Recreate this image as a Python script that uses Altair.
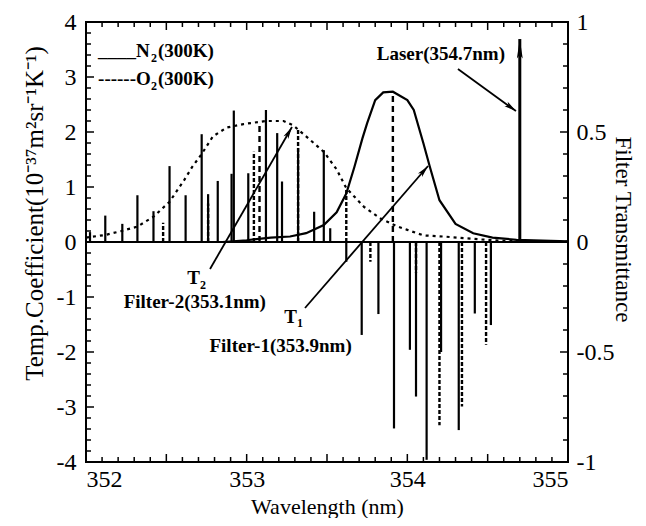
import altair as alt
import pandas as pd

# ---------------- data ----------------
# N2 (solid) temperature-coefficient lines
n2_lam = [352.025, 352.12, 352.226, 352.32, 352.42, 352.52, 352.62, 352.72, 352.76,
          352.82, 352.906, 352.92, 353.01, 353.12, 353.19, 353.22, 353.32, 353.42,
          353.48, 353.52, 353.62, 353.716, 353.82, 353.917, 354.016, 354.054,
          354.12, 354.21, 354.32, 354.42, 354.52]
n2_val = [0.18, 0.48, 0.33, 0.85, 0.56, 1.38, 0.85, 1.96, 0.87,
          1.11, 1.24, 2.39, 1.25, 2.40, 1.98, 1.10, 1.71, 0.55,
          1.67, 0.25, -0.36, -1.69, -1.31, -3.39, -1.96, -2.81,
          -3.96, -2.00, -3.42, -1.30, -1.51]

# O2 (dashed) temperature-coefficient lines
o2_lam = [352.48, 352.76, 353.045, 353.32, 353.62, 353.77, 354.054, 354.20, 354.34, 354.49]
o2_val = [0.35, 0.70, 1.64, 2.07, 0.95, -0.36, -0.56, -3.33, -2.99, -1.87]

# Filter-1 transmittance (solid curve, right axis)
f1_lam = [352.85, 353.0, 353.15, 353.27, 353.37, 353.48, 353.56, 353.62, 353.67, 353.72,
          353.75, 353.8, 353.85, 353.91, 354.0, 354.04, 354.1, 354.14, 354.2, 354.3,
          354.41, 354.53, 354.68, 355.0]
f1_t = [0.0, 0.008, 0.02, 0.025, 0.04, 0.077, 0.135, 0.22, 0.34, 0.47,
        0.54, 0.645, 0.68, 0.683, 0.645, 0.6, 0.449, 0.342, 0.19, 0.082,
        0.04, 0.02, 0.01, 0.003]

# Filter-2 transmittance (dotted curve, right axis)
f2_lam = [352.0, 352.12, 352.22, 352.32, 352.42, 352.52, 352.61, 352.66, 352.72, 352.79,
          352.875, 352.98, 353.12, 353.23, 353.29, 353.37, 353.48, 353.56, 353.62, 353.73,
          353.83, 353.94, 354.0, 354.1, 354.24, 354.45, 354.6, 355.0]
f2_t = [0.02, 0.032, 0.05, 0.07, 0.115, 0.183, 0.28, 0.34, 0.40, 0.48,
        0.52, 0.536, 0.55, 0.55, 0.53, 0.48, 0.41, 0.33, 0.245, 0.16,
        0.108, 0.07, 0.055, 0.03, 0.024, 0.012, 0.005, 0.002]

# filter centre markers (dashed verticals), right-axis heights
center_lam = [353.91, 353.08]
center_t = [0.683, 0.54]

# laser line
laser_lam = [354.7]
laser_top = [3.69]

# annotation arrows (start -> tip, data units of the left axis)
arrow_x1 = [352.772, 353.363, 354.315]
arrow_y1 = [-0.49, -1.20, 3.145]
arrow_x2 = [353.282, 354.129, 354.676]
arrow_y2 = [2.09, 1.382, 2.38]
arrow_angle = [30, 41, 126]

# annotation texts
rtext = ["Laser(354.7nm)", "Filter-2(353.1nm)", "Filter-1(353.9nm)"]
rtext_x = [354.608, 353.12, 353.654]
rtext_y = [3.418, -1.085, -1.89]

ctext = ["T", "T"]
ctext_x = [352.669, 353.273]
ctext_y = [-0.655, -1.358]

sub = ["2", "1", "2", "2"]
sub_x = [352.71, 353.313, 352.405, 352.405]
sub_y = [-0.855, -1.545, 3.273, 2.76]

legend_text = ["____N", "(300K)", "------O", "(300K)"]
legend_x = [352.075, 352.448, 352.075, 352.448]
legend_y = [3.364, 3.364, 2.85, 2.85]

left_ticks = [round(-4 + 0.2 * i, 1) for i in range(41)]
right_ticks = [round(-1 + 0.1 * i, 1) for i in range(21)]
x_ticks = [round(352 + 0.1 * i, 1) for i in range(31)]

# ---------------- chart ----------------
W, H = 482, 440
FONT = "Liberation Serif, Times New Roman, serif"

xs = alt.Scale(domain=[352, 355], nice=False, zero=False)
yl = alt.Scale(domain=[-4, 4], nice=False, zero=False)
yr = alt.Scale(domain=[-1, 1], nice=False, zero=False)

n2 = pd.DataFrame({"lam": n2_lam, "v": n2_val, "z": 0.0})
o2 = pd.DataFrame({"lam": o2_lam, "v": o2_val, "z": 0.0})
f1 = pd.DataFrame({"lam": f1_lam, "t": f1_t})
f2 = pd.DataFrame({"lam": f2_lam, "t": f2_t})
cen = pd.DataFrame({"lam": center_lam, "t": center_t, "z": 0.0})
las = pd.DataFrame({"lam": laser_lam, "v": laser_top, "z": 0.0})
arr = pd.DataFrame({"x1": arrow_x1, "y1": arrow_y1, "x2": arrow_x2, "y2": arrow_y2, "a": arrow_angle})
rt = pd.DataFrame({"s": rtext, "x": rtext_x, "y": rtext_y})
ct = pd.DataFrame({"s": ctext, "x": ctext_x, "y": ctext_y})
st = pd.DataFrame({"s": sub, "x": sub_x, "y": sub_y})
lt = pd.DataFrame({"s": legend_text, "x": legend_x, "y": legend_y})

lt_df = pd.DataFrame({"v": left_ticks})
lt_df["major"] = lt_df["v"].apply(lambda v: abs(v - round(v)) < 1e-6)
rt_df = pd.DataFrame({"t": right_ticks})
rt_df["major"] = rt_df["t"].apply(lambda v: abs(v * 2 - round(v * 2)) < 1e-6)
xt_df = pd.DataFrame({"lam": x_ticks})
xt_df["major"] = xt_df["lam"].apply(lambda v: abs(v * 2 - round(v * 2)) < 1e-6)

MINUS = "replace(datum.label, '\u2212', '-')"

YAX = alt.Axis(values=list(range(-4, 5)), ticks=False, domain=False, grid=False,
               labelPadding=10, labelFontSize=24,
               title="Temp.Coefficient(10⁻³⁷m²sr⁻¹K⁻¹)", titleFontSize=25,
               titleX=-44, titleY=191, titleAngle=270, titleAlign="center",
               titleBaseline="alphabetic", labelExpr=MINUS)
XAX = alt.Axis(values=[352, 353, 354, 355], format="d", ticks=False, domain=False, grid=False,
               labelPadding=5, labelFontSize=24, title="Wavelength (nm)", titleFontSize=22,
               titlePadding=5)
RAX = alt.Axis(orient="right", values=[-1, -0.5, 0, 0.5, 1], format="~g", ticks=False,
               domain=False, grid=False, labelPadding=8, labelFontSize=24,
               title="Filter Transmittance", titleFontSize=23,
               titleX=47, titleY=207, titleAngle=90, titleAlign="center",
               titleBaseline="alphabetic", labelExpr=MINUS)


def X(f):
    return alt.X(f, type="quantitative", scale=xs, axis=XAX)


def YL(f):
    return alt.Y(f, type="quantitative", scale=yl, axis=YAX)


def YR(f):
    return alt.Y(f, type="quantitative", scale=yr, axis=RAX)


base_n2 = alt.Chart(n2).mark_rule(color="black", strokeWidth=2.2).encode(
    x=X("lam"), y=YL("z"), y2="v:Q")
base_o2 = alt.Chart(o2).mark_rule(color="black", strokeWidth=2.4, strokeDash=[4, 2]).encode(
    x=X("lam"), y=YL("z"), y2="v:Q")
zero_line = alt.Chart(pd.DataFrame({"z": [0.0]})).mark_rule(color="black", strokeWidth=2).encode(
    y=YL("z"))
laser = alt.Chart(las).mark_rule(color="black", strokeWidth=3).encode(
    x=X("lam"), y=YL("z"), y2="v:Q")
laser_head = alt.Chart(las).mark_point(
    shape="M0,0L-0.3,2L0,1.6L0.3,2Z", filled=True, color="black", size=380, opacity=1
).encode(x=X("lam"), y=YL("v"))
arrows = alt.Chart(arr).mark_rule(color="black", strokeWidth=1.8).encode(
    x=X("x1"), x2="x2:Q", y=YL("y1"), y2="y2:Q")
heads = alt.Chart(arr).mark_point(
    shape="M0,0L-0.45,2L0,1.5L0.45,2Z", filled=True, color="black", size=150, opacity=1
).encode(x=X("x2"), y=YL("y2"), angle=alt.Angle("a:Q", scale=None))
txt_r = alt.Chart(rt).mark_text(font=FONT, fontSize=19, fontWeight="bold", align="right",
                                 baseline="middle", color="black").encode(
    x=X("x"), y=YL("y"), text="s:N")
txt_c = alt.Chart(ct).mark_text(font=FONT, fontSize=19, fontWeight="bold", align="center",
                                 baseline="middle", color="black").encode(
    x=X("x"), y=YL("y"), text="s:N")
txt_s = alt.Chart(st).mark_text(font=FONT, fontSize=12, fontWeight="bold", align="left",
                                 baseline="alphabetic", color="black").encode(
    x=X("x"), y=YL("y"), text="s:N")
txt_l = alt.Chart(lt).mark_text(font=FONT, fontSize=19, fontWeight="bold", align="left",
                                 baseline="alphabetic", color="black").encode(
    x=X("x"), y=YL("y"), text="s:N")

tick_layers = []
for major, ln in [(True, 8), (False, 5)]:
    d = lt_df[lt_df["major"] == major]
    tick_layers.append(alt.Chart(d).mark_rule(color="black", strokeWidth=1.5).encode(
        y=YL("v"), x=alt.value(0), x2=alt.value(ln)))
    d = xt_df[xt_df["major"] == major]
    tick_layers.append(alt.Chart(d).mark_rule(color="black", strokeWidth=1.5).encode(
        x=X("lam"), y=alt.value(0), y2=alt.value(ln)))
    tick_layers.append(alt.Chart(d).mark_rule(color="black", strokeWidth=1.5).encode(
        x=X("lam"), y=alt.value(H), y2=alt.value(H - ln)))

left_group = alt.layer(base_n2, base_o2, zero_line, laser, laser_head, arrows, heads,
                       txt_r, txt_c, txt_s, txt_l, *tick_layers)

f1_line = alt.Chart(f1).mark_line(color="black", strokeWidth=2.2).encode(
    x=X("lam"), y=YR("t"))
f2_line = alt.Chart(f2).mark_line(color="black", strokeWidth=2.2, strokeDash=[3, 4]).encode(
    x=X("lam"), y=YR("t"))
cen_lines = alt.Chart(cen).mark_rule(color="black", strokeWidth=2.4, strokeDash=[6, 4]).encode(
    x=X("lam"), y=YR("z"), y2="t:Q")
rticks = []
for major, ln in [(True, 8), (False, 5)]:
    d = rt_df[rt_df["major"] == major]
    rticks.append(alt.Chart(d).mark_rule(color="black", strokeWidth=1.5).encode(
        y=YR("t"), x=alt.value(W), x2=alt.value(W - ln)))

right_group = alt.layer(f1_line, f2_line, cen_lines, *rticks)

chart = alt.layer(left_group, right_group).resolve_scale(y="independent").properties(
    width=W, height=H,
    background="white",
    autosize=alt.AutoSizeParams(type="none"),
    padding={"left": 78, "top": 14, "right": 70, "bottom": 56},
).configure_view(stroke="black", strokeWidth=2).configure_axis(
    labelFont=FONT, titleFont=FONT, labelColor="black", titleColor="black",
    titleFontWeight="normal",
)

chart.save("out.html", embed_options={"renderer": "svg", "actions": False})
